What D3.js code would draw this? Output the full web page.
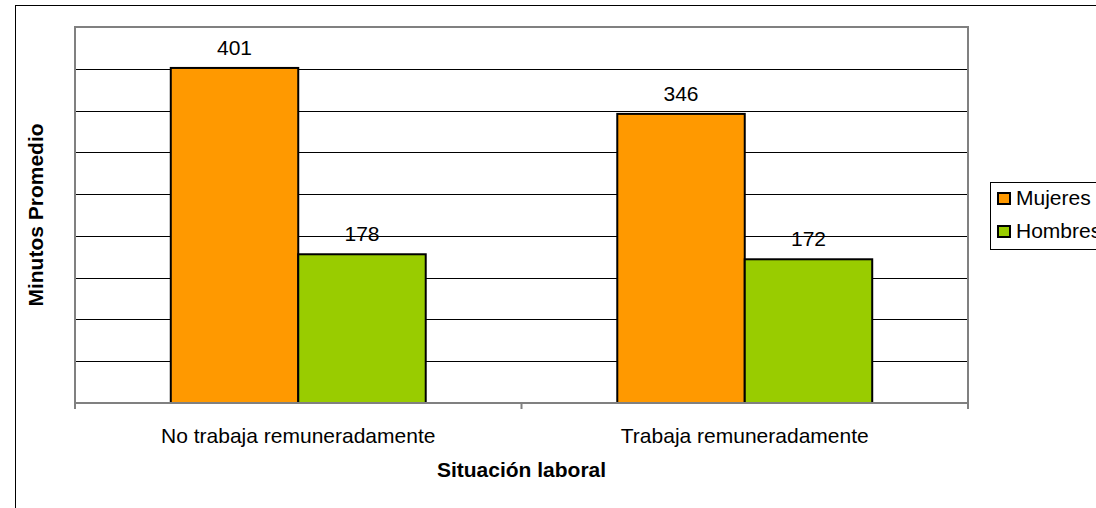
<!DOCTYPE html>
<html>
<head>
<meta charset="utf-8">
<script src="https://cdn.jsdelivr.net/npm/d3@7"></script>
<style>
  body { margin: 0; background: #fff; }
  svg { display: block; font-family: 'Liberation Sans', Arial, sans-serif; }
</style>
</head>
<body>
<div id="chart"></div>
<script>
// Data
const categories = ['No trabaja remuneradamente', 'Trabaja remuneradamente'];
const seriesNames = ['Mujeres', 'Hombres'];
const mujeres = [401, 346];
const hombres = [178, 172];
const colors = ['#FF9900', '#99CC00'];
const yTicks = [0, 50, 100, 150, 200, 250, 300, 350, 400, 450];

const width = 1096, height = 508;
const plot = { left: 75, top: 27, right: 968, bottom: 403 };
const fontSize = '21px';

const svg = d3.select('#chart').append('svg')
    .attr('width', width)
    .attr('height', height);

// Outer chart frame
svg.append('rect')
    .attr('x', 15.5).attr('y', 5.5)
    .attr('width', 1100).attr('height', 520)
    .attr('fill', 'none')
    .attr('stroke', '#000')
    .attr('stroke-width', 1);

const x0 = d3.scaleBand()
    .domain(categories)
    .range([plot.left, plot.right]);

const x1 = d3.scaleBand()
    .domain(seriesNames)
    .range([0, x0.bandwidth() * 0.571])
    .padding(0);

const y = d3.scaleLinear()
    .domain([0, 450])
    .range([plot.bottom, plot.top]);

// Gridlines
svg.append('g')
    .selectAll('line')
    .data(yTicks.filter(t => t > 0 && t < 450))
    .enter()
    .append('line')
    .attr('x1', plot.left).attr('x2', plot.right)
    .attr('y1', d => Math.round(y(d)) + 0.5)
    .attr('y2', d => Math.round(y(d)) + 0.5)
    .attr('stroke', '#000')
    .attr('stroke-width', 1);

// Plot area frame (gray)
svg.append('rect')
    .attr('x', plot.left).attr('y', plot.top)
    .attr('width', plot.right - plot.left)
    .attr('height', plot.bottom - plot.top)
    .attr('fill', 'none')
    .attr('stroke', '#808080')
    .attr('stroke-width', 2);

// Bars
const rows = categories.map((c, i) => ({ cat: c, values: [mujeres[i], hombres[i]] }));
const offset = (x0.bandwidth() - x1.range()[1]) / 2;

const group = svg.append('g')
    .selectAll('g')
    .data(rows)
    .enter()
    .append('g')
    .attr('transform', d => `translate(${x0(d.cat) + offset},0)`);

group.selectAll('rect')
    .data(d => d.values.map((v, j) => ({ name: seriesNames[j], value: v, color: colors[j] })))
    .enter()
    .append('rect')
    .attr('x', d => x1(d.name))
    .attr('y', d => y(d.value))
    .attr('width', x1.bandwidth())
    .attr('height', d => y(0) - y(d.value))
    .attr('fill', d => d.color)
    .attr('stroke', '#000')
    .attr('stroke-width', 2);

group.selectAll('text')
    .data(d => d.values.map((v, j) => ({ name: seriesNames[j], value: v })))
    .enter()
    .append('text')
    .attr('x', d => x1(d.name) + x1.bandwidth() / 2)
    .attr('y', d => y(d.value) - 13)
    .attr('text-anchor', 'middle')
    .style('font-size', fontSize)
    .attr('fill', '#000')
    .text(d => d.value);

// X axis
svg.append('line')
    .attr('x1', plot.left).attr('x2', plot.right)
    .attr('y1', plot.bottom).attr('y2', plot.bottom)
    .attr('stroke', '#808080').attr('stroke-width', 2);

const edges = [plot.left, ...categories.slice(1).map(c => x0(c)), plot.right];
svg.append('g')
    .selectAll('line')
    .data(edges)
    .enter()
    .append('line')
    .attr('x1', d => d).attr('x2', d => d)
    .attr('y1', plot.bottom).attr('y2', plot.bottom + 6)
    .attr('stroke', '#808080').attr('stroke-width', 2);

svg.append('g')
    .selectAll('text')
    .data(categories)
    .enter()
    .append('text')
    .attr('x', d => x0(d) + x0.bandwidth() / 2)
    .attr('y', 443)
    .attr('text-anchor', 'middle')
    .style('font-size', fontSize)
    .text(d => d);

// Axis titles
svg.append('text')
    .attr('x', (plot.left + plot.right) / 2)
    .attr('y', 477)
    .attr('text-anchor', 'middle')
    .style('font-size', fontSize)
    .style('font-weight', 'bold')
    .text('Situación laboral');

svg.append('text')
    .attr('transform', `translate(43,${(plot.top + plot.bottom) / 2}) rotate(-90)`)
    .attr('text-anchor', 'middle')
    .style('font-size', fontSize)
    .style('font-weight', 'bold')
    .text('Minutos Promedio');

// Legend
const legend = svg.append('g').attr('transform', 'translate(990,182)');
legend.append('rect')
    .attr('x', 0.5).attr('y', 0.5)
    .attr('width', 140).attr('height', 67)
    .attr('fill', '#fff')
    .attr('stroke', '#000');

const item = legend.selectAll('g')
    .data(seriesNames)
    .enter()
    .append('g')
    .attr('transform', (d, i) => `translate(0,${23 + i * 33})`);

item.append('rect')
    .attr('x', 8).attr('y', -12)
    .attr('width', 12).attr('height', 11)
    .attr('fill', (d, i) => colors[i])
    .attr('stroke', '#000')
    .attr('stroke-width', 2);

item.append('text')
    .attr('x', 26)
    .attr('y', 0)
    .style('font-size', fontSize)
    .text(d => d);
</script>
</body>
</html>
